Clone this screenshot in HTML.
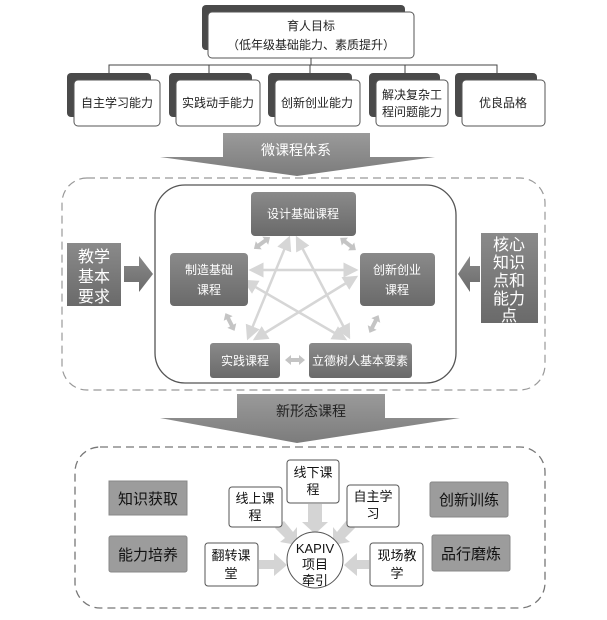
<!DOCTYPE html>
<html><head><meta charset="utf-8"><style>
html,body{margin:0;padding:0;background:#fff;}
svg text{font-family:"Liberation Sans","Noto Sans CJK SC",sans-serif;}
</style></head><body>
<svg width="607" height="615" viewBox="0 0 607 615" xmlns="http://www.w3.org/2000/svg">
<defs>
<linearGradient id="g" x1="0" y1="0" x2="0" y2="1"><stop offset="0" stop-color="#8a8a8a"/><stop offset="1" stop-color="#6a6a6a"/></linearGradient>
<linearGradient id="ga" x1="0" y1="0" x2="0" y2="1"><stop offset="0" stop-color="#9a9a9a"/><stop offset="1" stop-color="#7c7c7c"/></linearGradient>
<marker id="ah" markerWidth="6" markerHeight="6" refX="5" refY="3" orient="auto-start-reverse"><path d="M0,0 L6,3 L0,6 z" fill="#d6d6d6"/></marker>
<path id="da" d="M-10,0 L-4,-5 L-4,-2 L4,-2 L4,-5 L10,0 L4,5 L4,2 L-4,2 L-4,5 Z" fill="#c4c4c4"/>
</defs>
<rect x="202" y="5" width="203" height="45" rx="4" fill="#4a4a4a"/>
<rect x="208" y="12" width="206" height="46" rx="4" fill="#fff" stroke="#555" stroke-width="1"/>
<text x="311" y="30" font-size="12" text-anchor="middle" fill="#222">育人目标</text>
<text x="311" y="49" font-size="12" text-anchor="middle" fill="#222">（低年级基础能力、素质提升）</text>
<g stroke="#444" stroke-width="1" fill="none">
<path d="M311 58 V65 M109 73 V65 H497 V73 M209 65 V73 M310 65 V73 M405 65 V73"/>
</g>
<g>
<rect x="67" y="73" width="84" height="44" rx="4" fill="#4a4a4a"/><rect x="74" y="80" width="86" height="46" rx="4" fill="#fff" stroke="#555"/>
<rect x="169" y="73" width="83" height="44" rx="4" fill="#4a4a4a"/><rect x="176" y="80" width="84" height="46" rx="4" fill="#fff" stroke="#555"/>
<rect x="268" y="73" width="84" height="44" rx="4" fill="#4a4a4a"/><rect x="275" y="80" width="85" height="46" rx="4" fill="#fff" stroke="#555"/>
<rect x="369" y="73" width="71" height="44" rx="4" fill="#4a4a4a"/><rect x="376" y="80" width="72" height="46" rx="4" fill="#fff" stroke="#555"/>
<rect x="455" y="73" width="82" height="44" rx="4" fill="#4a4a4a"/><rect x="462" y="80" width="83" height="46" rx="4" fill="#fff" stroke="#555"/>
</g>
<g font-size="12" fill="#222" text-anchor="middle">
<text x="117" y="107">自主学习能力</text>
<text x="218" y="107">实践动手能力</text>
<text x="317" y="107">创新创业能力</text>
<text x="412" y="99">解决复杂工</text><text x="412" y="116">程问题能力</text>
<text x="503" y="107">优良品格</text>
</g>
<path d="M223 133 H370 V157 H435 L297 176 L160 157 H223 Z" fill="url(#ga)"/>
<text x="296" y="155" font-size="14" fill="#fff" text-anchor="middle">微课程体系</text>
<rect x="62" y="178" width="483" height="212" rx="25" fill="none" stroke="#999" stroke-dasharray="8,5" stroke-width="1.2"/>
<rect x="155" y="185" width="301" height="198" rx="30" fill="#fff" stroke="#555" stroke-width="1.3"/>
<rect x="67" y="243" width="54" height="63" fill="url(#g)"/>
<g font-size="16" fill="#fff" text-anchor="middle"><text x="94" y="262">教学</text><text x="94" y="282">基本</text><text x="94" y="302">要求</text></g>
<path d="M124 266 H139 V256 L153 274 L139 292 V282 H124 Z" fill="url(#g)"/>
<rect x="481" y="233" width="57" height="90" fill="url(#g)"/>
<g font-size="16" fill="#fff" text-anchor="middle"><text x="509" y="250">核心</text><text x="509" y="268">知识</text><text x="509" y="286">点和</text><text x="509" y="304">能力</text><text x="509" y="321">点</text></g>
<path d="M480 266 H470 V256 L458 274 L470 292 V282 H480 Z" fill="url(#g)"/>
<g stroke="#d6d6d6" stroke-width="2.5" fill="none" marker-end="url(#ah)" marker-start="url(#ah)">
<line x1="289" y1="238" x2="248" y2="338"/>
<line x1="297" y1="238" x2="349" y2="337"/>
<line x1="251" y1="270" x2="356" y2="270"/>
<line x1="245" y1="281" x2="345" y2="339"/>
<line x1="356" y1="277" x2="255" y2="339"/>
</g>
<use href="#da" transform="translate(262,243) rotate(-36)"/>
<use href="#da" transform="translate(348,244) rotate(38)"/>
<use href="#da" transform="translate(230,322) rotate(63)"/>
<use href="#da" transform="translate(374,324) rotate(-63)"/>
<use href="#da" transform="translate(295,360)"/>
<g fill="url(#g)">
<rect x="251" y="192" width="105" height="44" rx="4"/>
<rect x="170" y="253" width="78" height="53" rx="4"/>
<rect x="360" y="253" width="75" height="53" rx="4"/>
<rect x="210" y="343" width="70" height="35" rx="3"/>
<rect x="309" y="343" width="103" height="35" rx="3"/>
</g>
<g font-size="12" fill="#fff" text-anchor="middle">
<text x="303" y="218">设计基础课程</text>
<text x="209" y="274">制造基础</text><text x="209" y="294">课程</text>
<text x="397" y="274">创新创业</text><text x="397" y="294">课程</text>
<text x="245" y="365">实践课程</text>
<text x="360" y="365">立德树人基本要素</text>
</g>
<path d="M237 394 H385 V418 H460 L297 443 L160 418 H237 Z" fill="url(#ga)"/>
<text x="311" y="416" font-size="14" fill="#222" text-anchor="middle">新形态课程</text>
<rect x="75" y="447" width="470" height="161" rx="25" fill="none" stroke="#777" stroke-dasharray="8,5" stroke-width="1.3"/>
<g fill="#9c9c9c" stroke="#888">
<rect x="109" y="481" width="78" height="34"/>
<rect x="109" y="536" width="78" height="36" rx="2"/>
<rect x="430" y="482" width="78" height="35" rx="2"/>
<rect x="432" y="535" width="78" height="36" rx="2"/>
</g>
<g font-size="15" fill="#111" text-anchor="middle">
<text x="148" y="504">知识获取</text><text x="148" y="560">能力培养</text>
<text x="469" y="505">创新训练</text><text x="471" y="559">品行磨炼</text>
</g>
<g fill="#d4d4d4">
<path d="M308 504 H322 V522 H328 L315 534 L302 522 H308 Z"/>
<path d="M275 528 L284 521 L293 532 L297 527 L297 545 L280 542 L285 538 Z"/>
<path d="M355 528 L346 521 L337 532 L333 527 L333 545 L350 542 L345 538 Z"/>
<path d="M259 560 H274 V553 L287 565 L274 576 V569 H259 Z"/>
<path d="M369 560 H357 V553 L344 565 L357 576 V569 H369 Z"/>
</g>
<g fill="#fff" stroke="#555">
<rect x="287" y="460" width="52" height="43" rx="3"/>
<rect x="229" y="487" width="53" height="40" rx="3"/>
<rect x="347" y="485" width="52" height="42" rx="3"/>
<rect x="205" y="543" width="53" height="43" rx="3"/>
<rect x="370" y="543" width="53" height="43" rx="3"/>
<circle cx="315" cy="560" r="28"/>
</g>
<g font-size="13" fill="#111" text-anchor="middle">
<text x="313" y="477">线下课</text><text x="313" y="494">程</text>
<text x="255" y="503">线上课</text><text x="255" y="520">程</text>
<text x="373" y="501">自主学</text><text x="373" y="518">习</text>
<text x="231" y="560">翻转课</text><text x="231" y="578">堂</text>
<text x="397" y="560">现场教</text><text x="397" y="578">学</text>
<text x="315" y="553">KAPIV</text><text x="315" y="569">项目</text><text x="315" y="585">牵引</text>
</g>
</svg>
</body></html>
